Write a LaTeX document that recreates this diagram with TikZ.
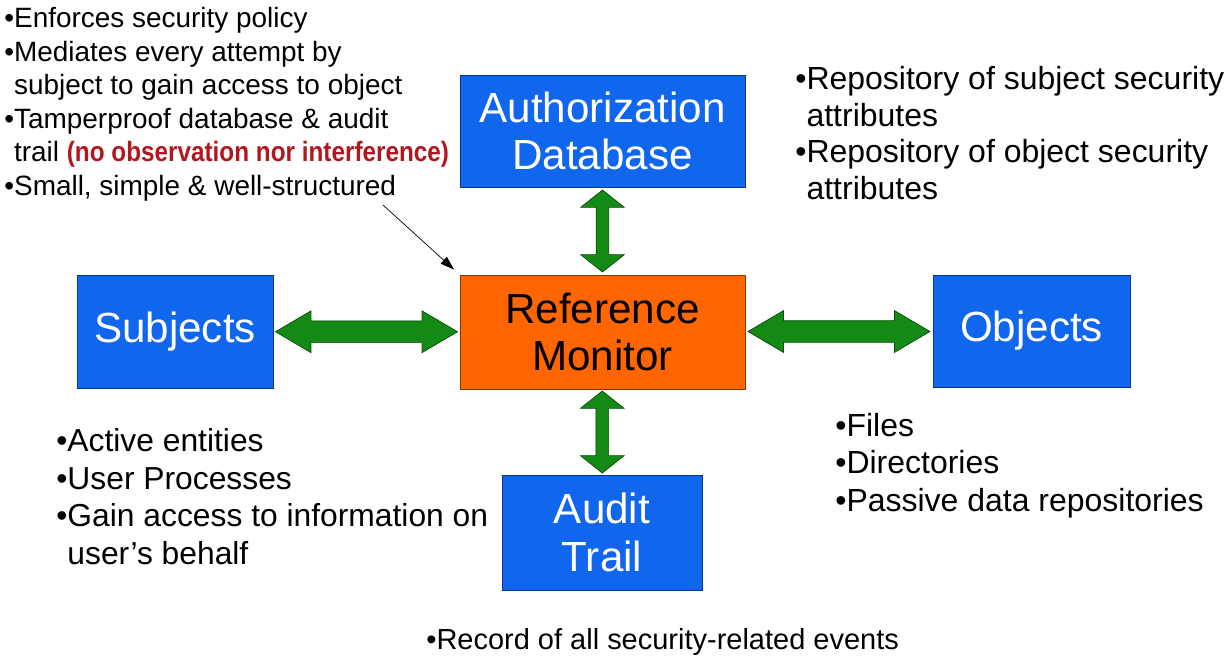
\documentclass[tikz,border=0pt]{standalone}
\usepackage{fontspec}
\usepackage{graphicx}
\setmainfont{Liberation Sans}
\usetikzlibrary{positioning, arrows.meta, shapes.arrows, calc}
\definecolor{rmblue}{HTML}{1166EE}
\definecolor{rmorange}{HTML}{FF6600}
\definecolor{rmgreen}{HTML}{138A13}
\definecolor{rmdkgreen}{HTML}{0B4A0B}
\definecolor{rmred}{HTML}{B0171F}

\begin{document}
\begin{tikzpicture}[
      x=0.02cm, y=-0.02cm,
      box/.style={draw=#1!55!black, fill=#1, align=center, inner sep=0pt,
                  font=\fontsize{24}{27}\selectfont},
      note/.style={anchor=north west, align=left, inner sep=0pt},
      hfat/.style={double arrow, draw=rmdkgreen, fill=rmgreen,
                   inner xsep=0pt, inner ysep=0.21cm, minimum height=3.64cm,
                   double arrow head extend=0.2cm, double arrow tip angle=61},
      vfat/.style={double arrow, draw=rmdkgreen, fill=rmgreen,
                   inner xsep=0pt, inner ysep=0.12cm, minimum height=1.64cm,
                   double arrow head extend=0.31cm, double arrow tip angle=103,
                   rotate=90},
    ]
    \useasboundingbox (0,0) rectangle (1231,664);

    % Main boxes
    \node[box=rmblue, text=white, minimum width=5.7cm, minimum height=2.24cm]
      (authdb) at (602.5,131) {Authorization\\Database};
    \node[box=rmorange, text=black, minimum width=5.7cm, minimum height=2.28cm]
      (refmon) at (602.5,332) {Reference\\Monitor};
    \node[box=rmblue, text=white, minimum width=3.92cm, minimum height=2.26cm]
      (subjects) at (175,331.5) {Subjects};
    \node[box=rmblue, text=white, minimum width=3.94cm, minimum height=2.24cm]
      (objects) at (1031.5,331) {Objects};
    \node[box=rmblue, text=white, minimum width=4cm, minimum height=2.3cm]
      (audit) at (602,532.5) {Audit\\Trail};

    % Fat two-way arrows
    \path (subjects.east) -- (refmon.west) node[midway, hfat] (subjarrow) {};
    \path (refmon.east) -- (objects.west) node[midway, hfat] (objarrow) {};
    \path (authdb.south) -- (refmon.north) node[midway, vfat] (authdbarrow) {};
    \path (refmon.south) -- (audit.north) node[midway, vfat] (auditarrow) {};

    % Notes
    \node[note, font=\fontsize{15.9}{19.1}\selectfont] (rmnote) at (4,7)
      {•Enforces security policy\\
       •Mediates every attempt by\\
       \hphantom{•}subject to gain access to object\\
       •Tamperproof database \& audit\\
       \hphantom{•}trail \scalebox{0.87}[1]{\bfseries\color{rmred}(no observation nor interference)}\\
       •Small, simple \& well-structured};
    \node[note, font=\fontsize{18.2}{20.9}\selectfont] (authnote) at (795,66)
      {•Repository of subject security\\
       \hphantom{•}attributes\\
       •Repository of object security\\
       \hphantom{•}attributes};
    \node[note, font=\fontsize{18.1}{21.4}\selectfont] (subjnote) at (56,428)
      {•Active entities\\
       •User Processes\\
       •Gain access to information on\\
       \hphantom{•}user's behalf};
    \node[note, font=\fontsize{18.2}{21.3}\selectfont] (objnote) at (835,413)
      {•Files\\
       •Directories\\
       •Passive data repositories};
    \node[note, font=\fontsize{16.5}{19.8}\selectfont] (auditnote) at (426,628)
      {•Record of all security-related events};

    % Pointer to the monitor
    \coordinate (pointer) at (383,205);
    \draw[-{Triangle[length=0.28cm, width=0.18cm]}, shorten >=0.15cm]
      (pointer) -- (refmon.north west);
  \end{tikzpicture}
\end{document}
